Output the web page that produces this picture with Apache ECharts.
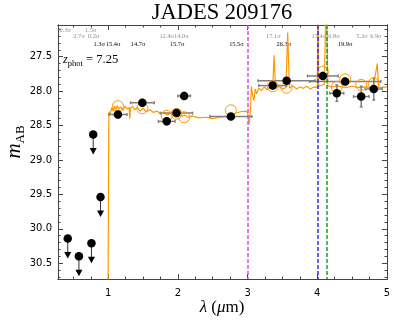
<!DOCTYPE html>
<html>
<head>
<meta charset="utf-8">
<script src="https://cdn.jsdelivr.net/npm/echarts@6/dist/echarts.min.js"></script>
<style>
html,body{margin:0;padding:0;background:#fff;}
#main{width:394px;height:323px;}
</style>
</head>
<body>
<div id="main"></div>
<script>
// model spectrum
var specLam = [0.30,0.99,1.003,1.008,1.015,1.03,1.05,1.07,1.09,1.11,1.13,1.15,1.18,1.21,1.24,1.27,1.30,1.31,1.32,1.35,1.38,1.42,1.46,1.50,1.55,1.60,1.65,1.70,1.75,1.80,1.85,1.90,1.95,2.00,2.05,2.10,2.15,2.20,2.30,2.40,2.50,2.60,2.70,2.80,2.90,2.97,3.00,3.02,3.04,3.055,3.07,3.09,3.11,3.13,3.16,3.20,3.24,3.28,3.32,3.36,3.38,3.40,3.45,3.50,3.55,3.575,3.60,3.65,3.70,3.75,3.80,3.85,3.90,3.95,4.00,4.01,4.02,4.10,4.13,4.15,4.20,4.30,4.40,4.50,4.60,4.70,4.80,4.86,4.88,5.00];
var specMag = [33.0,33.0,33.0,28.45,28.30,28.33,28.24,28.29,28.22,28.27,28.21,28.26,28.23,28.28,28.22,28.26,28.24,28.40,28.25,28.22,28.27,28.24,28.29,28.25,28.30,28.27,28.31,28.29,28.33,28.31,28.35,28.32,28.36,28.34,28.37,28.35,28.38,28.36,28.39,28.38,28.40,28.38,28.37,28.33,28.30,28.29,28.31,28.48,28.30,27.93,28.05,28.14,27.97,28.04,27.96,27.99,27.94,27.98,27.95,27.96,27.48,27.96,27.93,27.97,27.95,27.15,27.96,27.92,27.97,27.94,27.96,27.93,27.97,27.94,27.95,26.5,27.93,27.90,26.5,27.92,27.94,27.93,27.95,27.93,27.95,27.94,27.96,27.60,27.95,27.94];

// detections
var detLam    = [1.14,1.49,1.84,1.98,2.09,2.76,3.36,3.56,4.08,4.28,4.40,4.63,4.81];
var detLamErr = [0.13,0.17,0.12,0.23,0.09,0.30,0.20,0.41,0.22,0.10,0.51,0.11,0.12];
var detMag    = [28.34,28.17,28.44,28.32,28.07,28.37,27.92,27.85,27.78,28.03,27.86,28.08,27.97];
var detMagErr = [0.05,0.05,0.05,0.05,0.05,0.04,0.05,0.04,0.05,0.12,0.05,0.15,0.16];
// model photometry
var modMag    = [28.22,28.25,28.36,28.33,28.38,28.28,27.93,27.95,27.72,27.94,27.83,27.91,27.89];
// upper limits
var ulLam = [0.42,0.58,0.76,0.785,0.89];
var ulMag = [30.14,30.40,30.21,28.63,29.54];

// S/N labels
var snrText = ['0.3σ','1.5σ','2.7σ','0.2σ','12.4σ','14.0σ','17.1σ','17.4σ','6.8σ','5.3σ','6.9σ','1.3σ','15.4σ','14.7σ','15.7σ','15.5σ','26.3σ','19.9σ'];
var snrLam  = [0.385,0.75,0.58,0.79,1.84,2.05,3.37,4.02,4.24,4.64,4.84,0.87,1.07,1.43,1.99,2.84,3.52,4.40];
var snrRow  = [0,0,1,1,1,1,1,1,1,1,1,2,2,2,2,2,2,2];

var zphot = '7.25';
var lineLam = [3.0, 4.0, 4.13];
var lineColor = ['#d452e0','#2f2fe8','#1f9a1f'];

var xMajor = [1,2,3,4,5];
var yMajor = [27.5,28.0,28.5,29.0,29.5,30.0,30.5];

var xMin = 0.28, xMax = 5.0, yMin = 27.04, yMax = 30.73;
var orange = '#ff9800';
var axisColor = '#444';

var xMinor = [], yMinor = [];
for (var i = 2; i < 20; i++) { if (i % 4 != 0) xMinor.push(i * 0.25); }
for (var j = 271; j <= 307; j++) { if (j % 5 != 0) yMinor.push(j / 10); }

var makeX = function(pos, ticks, len, labels){
	return {type:'value', position:pos, min:xMin, max:xMax,
		axisLine:{show:true, onZero:false, lineStyle:{color:axisColor, width:1}},
		axisTick:{show:true, inside:true, length:len, customValues:ticks, lineStyle:{color:axisColor, width:1}},
		axisLabel:{show:labels, customValues:xMajor, margin:9, color:'#000', fontSize:10, fontFamily:'DejaVu Sans'},
		splitLine:{show:false}};
};
var makeY = function(pos, ticks, len, labels){
	return {type:'value', position:pos, min:yMin, max:yMax, inverse:true,
		axisLine:{show:true, onZero:false, lineStyle:{color:axisColor, width:1}},
		axisTick:{show:true, inside:true, length:len, customValues:ticks, lineStyle:{color:axisColor, width:1}},
		axisLabel:{show:labels, customValues:yMajor, margin:6, color:'#000', fontSize:10, fontFamily:'DejaVu Sans',
			formatter:function(v){ return v.toFixed(1); }},
		splitLine:{show:false}};
};

var specData = specLam.map(function(l, i){ return [l, specMag[i]]; });
var errData = detLam.map(function(l, i){ return [l, detMag[i], detLamErr[i], detMagErr[i]]; });
var modData = detLam.map(function(l, i){ return [l, modMag[i]]; });
var detData = detLam.map(function(l, i){ return [l, detMag[i]]; });
var ulData = ulLam.map(function(l, i){ return [l, ulMag[i]]; });

var option = {
	animation:false,
	backgroundColor:'#fff',
	grid:{left:58, right:7, top:25, bottom:44, containLabel:false, outerBoundsMode:'none'},
	xAxis:[makeX('bottom', xMajor, 5, true), makeX('bottom', xMinor, 2.5, false),
		makeX('top', xMajor, 5, false), makeX('top', xMinor, 2.5, false)],
	yAxis:[makeY('left', yMajor, 5, true), makeY('left', yMinor, 2.5, false),
		makeY('right', yMajor, 5, false), makeY('right', yMinor, 2.5, false)],
	series:[
		{type:'line', data:specData, showSymbol:false, clip:true, z:2,
			lineStyle:{color:orange, width:1.2},
			markLine:{silent:true, symbol:['none','none'], label:{show:false},
				lineStyle:{type:[4,2], width:1.5},
				data:lineLam.map(function(l, i){ return {xAxis:l, lineStyle:{color:lineColor[i], type:[4,2], width:1.5}}; })}},
		{type:'custom', data:errData, clip:true, z:3,
			renderItem:function(params, api){
				var l = api.value(0), m = api.value(1), le = api.value(2), me = api.value(3);
				var a = api.coord([l - le, m]), b = api.coord([l + le, m]);
				var c = api.coord([l, m - me]), d = api.coord([l, m + me]);
				var st = {stroke:'#808080', lineWidth:1.5};
				return {type:'group', children:[
					{type:'line', shape:{x1:a[0], y1:a[1], x2:b[0], y2:b[1]}, style:st},
					{type:'line', shape:{x1:c[0], y1:c[1], x2:d[0], y2:d[1]}, style:st},
					{type:'line', shape:{x1:a[0], y1:a[1]-1.5, x2:a[0], y2:a[1]+1.5}, style:st},
					{type:'line', shape:{x1:b[0], y1:b[1]-1.5, x2:b[0], y2:b[1]+1.5}, style:st},
					{type:'line', shape:{x1:c[0]-1.5, y1:c[1], x2:c[0]+1.5, y2:c[1]}, style:st},
					{type:'line', shape:{x1:d[0]-1.5, y1:d[1], x2:d[0]+1.5, y2:d[1]}, style:st}
				]};
			}},
		{type:'scatter', data:modData, symbol:'circle', symbolSize:11, z:4,
			itemStyle:{color:'rgba(0,0,0,0)', borderColor:orange, borderWidth:1, opacity:1}},
		{type:'custom', data:ulData, clip:true, z:5,
			renderItem:function(params, api){
				var p = api.coord([api.value(0), api.value(1)]);
				var len = 20;
				return {type:'group', children:[
					{type:'line', shape:{x1:p[0], y1:p[1], x2:p[0], y2:p[1] + len - 5}, style:{stroke:'#333', lineWidth:1}},
					{type:'polygon', shape:{points:[[p[0]-3.5, p[1]+len-6.5], [p[0]+3.5, p[1]+len-6.5], [p[0], p[1]+len]]}, style:{fill:'#000'}}
				]};
			}},
		{type:'scatter', data:detData.concat(ulData), symbol:'circle', symbolSize:8.5, z:6,
			itemStyle:{color:'#000', opacity:1}}
	]
};

var chart = echarts.init(document.getElementById('main'));
chart.setOption(option);

var serif = 'Liberation Serif';
var rowY = [30, 36.7, 44.5];
var graphics = [
	{type:'text', x:222, y:13, style:{text:'JADES 209176', font:'22.5px "Liberation Serif"', fill:'#000', align:'center', verticalAlign:'middle'}},
	{type:'text', x:63, y:60, style:{text:'{i|z}{s|phot}{n| = ' + zphot + '}', align:'left', verticalAlign:'middle',
		rich:{i:{fontFamily:serif, fontStyle:'italic', fontSize:12.5, lineHeight:17, fill:'#000'},
			s:{fontFamily:serif, fontSize:8.5, lineHeight:8, verticalAlign:'bottom', fill:'#000'},
			n:{fontFamily:serif, fontSize:12.5, lineHeight:17, fill:'#000'}}}},
	{type:'text', x:222, y:308, style:{text:'{i|λ} ({i|μ}m)', align:'center', verticalAlign:'middle',
		fontFamily:serif, fontSize:17, fill:'#000',
		rich:{i:{fontFamily:serif, fontStyle:'italic', fontSize:17, fill:'#000'}}}},
	{type:'text', x:14, y:142, rotation:Math.PI/2, style:{text:'{i|m}{s|AB}', align:'center', verticalAlign:'middle',
		rich:{i:{fontFamily:serif, fontStyle:'italic', fontSize:21, lineHeight:27, fill:'#000'},
			s:{fontFamily:serif, fontSize:13, lineHeight:12, verticalAlign:'bottom', fill:'#000'}}}}
];
snrText.forEach(function(t, i){
	var px = chart.convertToPixel({xAxisIndex:0}, snrLam[i]);
	graphics.push({type:'text', x:px, y:rowY[snrRow[i]], style:{text:t, align:'center', verticalAlign:'middle',
		fontFamily:serif, fontSize:6.4, fill:snrRow[i] == 2 ? '#000' : '#8c8c8c'}});
});
chart.setOption({graphic:graphics});
</script>
</body>
</html>
